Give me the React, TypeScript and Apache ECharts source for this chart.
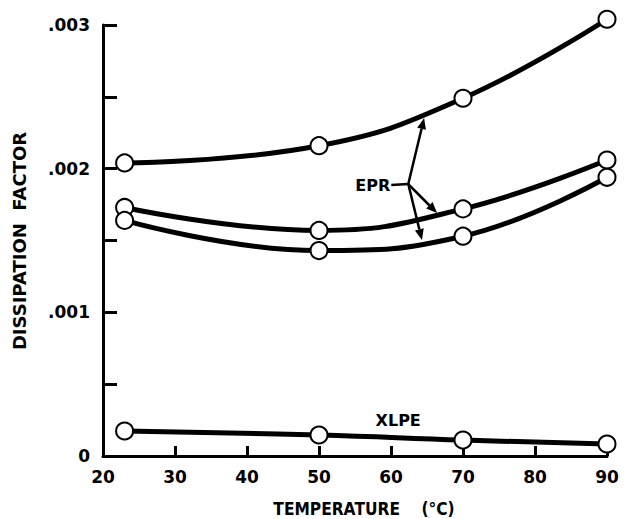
import React, { useEffect, useRef } from "react";
import * as echarts from "echarts";

const temps = [23, 50, 70, 90];
const eprUpper = [0.00204, 0.00216, 0.00249, 0.00304];
const eprMiddle = [0.00173, 0.00157, 0.00172, 0.00206];
const eprLower = [0.00164, 0.00143, 0.00153, 0.00194];
const xlpe = [0.000174, 0.000146, 0.000111, 0.0000835];
const xTicks = [20, 30, 40, 50, 60, 70, 80, 90];
const yTickLabels = ["0", ".001", ".002", ".003"];

// annotation anchors in data coordinates
const eprLabelAt: [number, number] = [59.9, 0.001886];
const eprJunction: [number, number] = [62.4, 0.001893];
const eprArrowTips: [number, number][] = [
  [64.6, 0.002352],
  [66.4, 0.001691],
  [64.3, 0.001503],
];
const xlpeLabelAt: [number, number] = [61, 0.00025];

const FONT = "DejaVu Sans";

function seriesOf(name: string, vals: number[]) {
  return {
    name,
    type: "line",
    smooth: 0.45,
    clip: false,
    data: temps.map((t, i) => [t, vals[i]]),
    symbol: "circle",
    symbolSize: 17,
    lineStyle: { color: "#000", width: 5 },
    itemStyle: { color: "#fff", borderColor: "#000", borderWidth: 2 },
    z: 3,
  };
}

export default function App() {
  const ref = useRef<HTMLDivElement>(null);
  useEffect(() => {
    if (!ref.current) return;
    const chart = echarts.init(ref.current, undefined, { renderer: "svg" });
    chart.setOption({
      animation: false,
      backgroundColor: "#fff",
      grid: { left: 103, right: 18, top: 25, bottom: 63 },
      xAxis: {
        type: "value",
        min: 20,
        max: 90,
        interval: 10,
        axisLine: { lineStyle: { color: "#000", width: 3 } },
        axisTick: { inside: true, length: 10, lineStyle: { color: "#000", width: 3 } },
        splitLine: { show: false },
        axisLabel: {
          color: "#000",
          fontFamily: FONT,
          fontWeight: "bold",
          fontSize: 17,
          margin: 12,
          formatter: (v: number) => (xTicks.includes(Math.round(v)) ? String(Math.round(v)) : ""),
        },
      },
      yAxis: {
        type: "value",
        min: 0,
        max: 0.003,
        interval: 0.0005,
        axisLine: { lineStyle: { color: "#000", width: 3 } },
        axisTick: { inside: true, length: 14, lineStyle: { color: "#000", width: 3 } },
        splitLine: { show: false },
        axisLabel: {
          color: "#000",
          fontFamily: FONT,
          fontWeight: "bold",
          fontSize: 17,
          margin: 13,
          formatter: (v: number) => {
            const k = Math.round(v * 10000);
            if (k % 10 !== 0) return "";
            return yTickLabels[k / 10] ?? "";
          },
        },
      },
      series: [
        seriesOf("EPR upper", eprUpper),
        seriesOf("EPR middle", eprMiddle),
        seriesOf("EPR lower", eprLower),
        seriesOf("XLPE", xlpe),
      ],
    });

    const px = (p: [number, number]) => chart.convertToPixel({ gridIndex: 0 }, p) as number[];
    const j = px(eprJunction);
    const lab = px(eprLabelAt);
    const xl = px(xlpeLabelAt);
    const elements: any[] = [];
    elements.push({
      type: "text",
      x: lab[0],
      y: lab[1],
      style: {
        text: "EPR",
        fill: "#000",
        font: `bold 16px "${FONT}"`,
        align: "right",
        verticalAlign: "middle",
      },
    });
    elements.push({
      type: "line",
      shape: { x1: lab[0] + 1, y1: lab[1], x2: j[0], y2: j[1] },
      style: { stroke: "#000", lineWidth: 2.5 },
    });
    eprArrowTips.forEach((tp) => {
      const t = px(tp);
      const dx = t[0] - j[0];
      const dy = t[1] - j[1];
      const len = Math.sqrt(dx * dx + dy * dy);
      const ux = dx / len;
      const uy = dy / len;
      const hl = 11;
      const hw = 4.5;
      const bx = t[0] - ux * hl;
      const by = t[1] - uy * hl;
      elements.push({
        type: "line",
        shape: { x1: j[0], y1: j[1], x2: bx, y2: by },
        style: { stroke: "#000", lineWidth: 2.5 },
      });
      elements.push({
        type: "polygon",
        shape: {
          points: [
            [t[0], t[1]],
            [bx - uy * hw, by + ux * hw],
            [bx + uy * hw, by - ux * hw],
          ],
        },
        style: { fill: "#000" },
      });
    });
    elements.push({
      type: "text",
      x: xl[0],
      y: xl[1],
      style: {
        text: "XLPE",
        fill: "#000",
        font: `bold 16px "${FONT}"`,
        align: "center",
        verticalAlign: "middle",
      },
    });
    elements.push({
      type: "text",
      x: 364,
      y: 509,
      scaleX: 0.86,
      style: {
        text: "TEMPERATURE    (°C)",
        fill: "#000",
        font: `bold 18px "${FONT}"`,
        align: "center",
        verticalAlign: "middle",
      },
    });
    elements.push({
      type: "text",
      x: 19,
      y: 241,
      rotation: Math.PI / 2,
      style: {
        text: "DISSIPATION  FACTOR",
        fill: "#000",
        font: `bold 18px "${FONT}"`,
        align: "center",
        verticalAlign: "middle",
      },
    });
    chart.setOption({ graphic: elements });
    return () => chart.dispose();
  }, []);
  return (
    <div
      ref={ref}
      style={{ position: "fixed", left: 0, top: 0, width: 625, height: 519 }}
    />
  );
}
